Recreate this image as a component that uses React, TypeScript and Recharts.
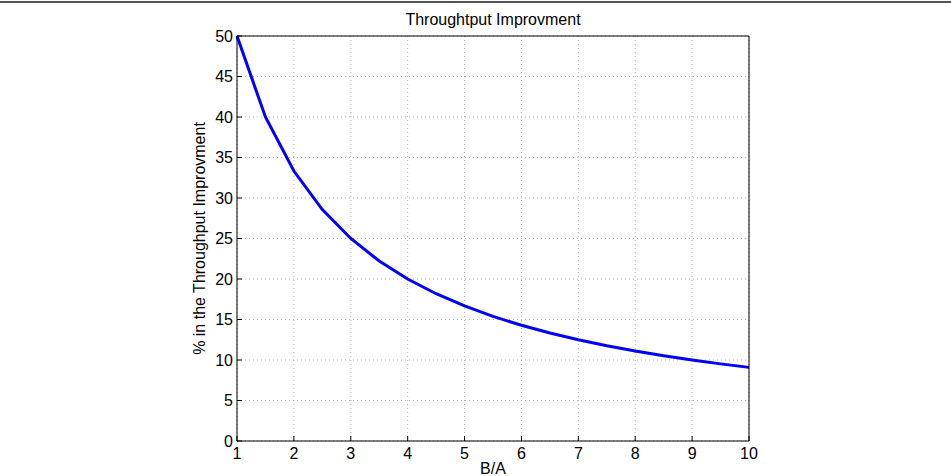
import React from "react"
import { LineChart, Line, XAxis, YAxis, CartesianGrid } from "recharts"

// B/A ratio and throughput improvement (%)
const ratios = [1, 1.5, 2, 2.5, 3, 3.5, 4, 4.5, 5, 5.5, 6, 6.5, 7, 7.5, 8, 8.5, 9, 9.5, 10]
const improvement = [
  50, 40, 33.33, 28.57, 25, 22.22, 20, 18.18, 16.67, 15.38, 14.29, 13.33, 12.5, 11.76, 11.11,
  10.53, 10, 9.52, 9.09,
]
const xTicks = [1, 2, 3, 4, 5, 6, 7, 8, 9, 10]
const yTicks = [0, 5, 10, 15, 20, 25, 30, 35, 40, 45, 50]

const data = ratios.map((x, i) => ({ x, y: improvement[i] }))

const font = "'Liberation Sans', Arial, Helvetica, sans-serif"
const tickStyle = { fill: "#000", fontSize: 16, fontFamily: font }

const App = () => (
  <div style={{ position: "absolute", left: 0, top: 0, width: 951, height: 476, background: "#fff" }}>
    <div
      style={{ position: "absolute", left: 0, top: 1, width: 951, height: 0, borderTop: "2px solid #555" }}
    />
    <div
      style={{
        position: "absolute",
        left: 237,
        top: 12,
        width: 512,
        textAlign: "center",
        fontFamily: font,
        fontSize: 16,
        lineHeight: "16px",
        color: "#000",
      }}
    >
      Throughtput Improvment
    </div>
    <LineChart
      width={951}
      height={476}
      data={data}
      margin={{ top: 35, right: 201, bottom: 0, left: 182 }}
      style={{ fontFamily: font }}
    >
      <CartesianGrid stroke="#b0b0b0" strokeDasharray="1 3" />
      <XAxis
        dataKey="x"
        type="number"
        domain={[1, 10]}
        ticks={xTicks}
        height={35}
        tickSize={-5}
        tickMargin={12}
        fontSize={16}
        tick={tickStyle}
        axisLine={{ stroke: "#000" }}
        tickLine={{ stroke: "#000" }}
        label={{ value: "B/A", position: "insideBottom", offset: 2, fill: "#000", fontSize: 16 }}
      />
      <XAxis
        xAxisId="top"
        orientation="top"
        dataKey="x"
        type="number"
        domain={[1, 10]}
        ticks={xTicks}
        height={1}
        tickSize={-5}
        tick={false}
        axisLine={{ stroke: "#000" }}
        tickLine={{ stroke: "#000" }}
      />
      <YAxis
        type="number"
        domain={[0, 50]}
        ticks={yTicks}
        width={55}
        tickSize={-5}
        tickMargin={9}
        fontSize={16}
        tick={tickStyle}
        axisLine={{ stroke: "#000" }}
        tickLine={{ stroke: "#000" }}
        label={{
          value: "% in the Throughput Improvment",
          angle: -90,
          position: "insideLeft",
          offset: 17,
          fill: "#000",
          fontSize: 16,
          style: { textAnchor: "middle" },
        }}
      />
      <YAxis
        yAxisId="right"
        orientation="right"
        type="number"
        domain={[0, 50]}
        ticks={yTicks}
        width={1}
        tickSize={-5}
        tick={false}
        axisLine={{ stroke: "#000" }}
        tickLine={{ stroke: "#000" }}
      />
      <Line
        dataKey="y"
        type="linear"
        stroke="#0000ff"
        strokeWidth={3}
        dot={false}
        isAnimationActive={false}
      />
      <Line
        dataKey="y"
        xAxisId="top"
        yAxisId="right"
        stroke="none"
        dot={false}
        isAnimationActive={false}
      />
    </LineChart>
  </div>
)

export default App
